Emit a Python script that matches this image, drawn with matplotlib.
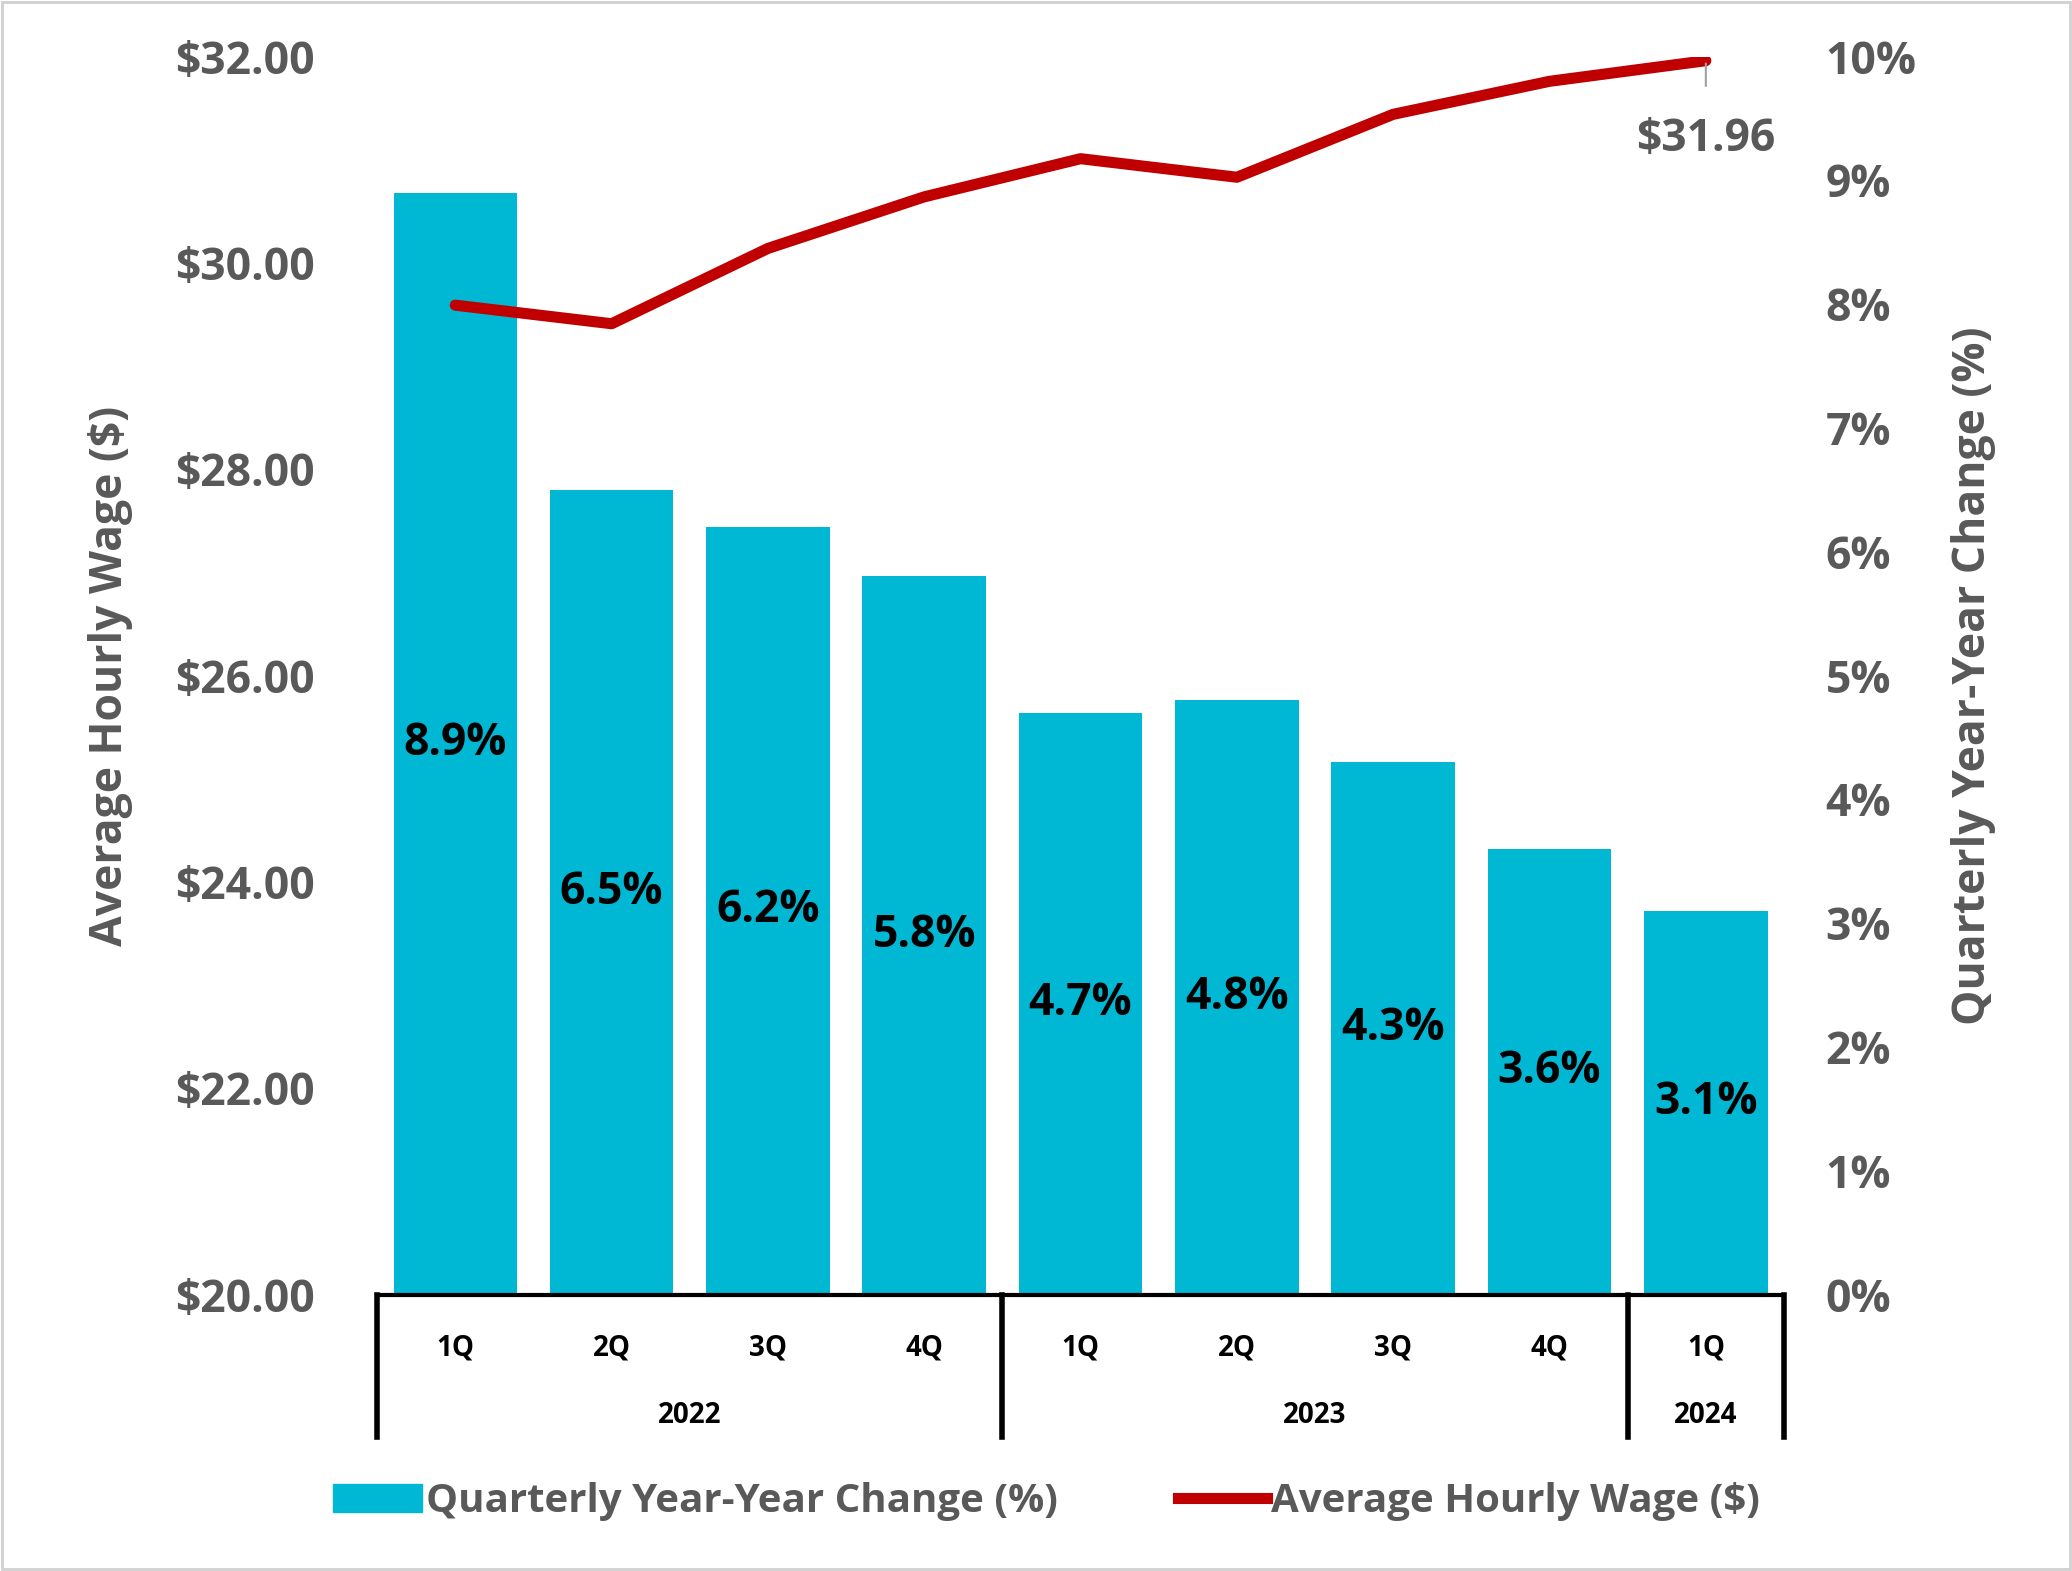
import matplotlib
matplotlib.use("Agg")
import matplotlib.pyplot as plt
from matplotlib.lines import Line2D
from matplotlib.patches import Patch, Rectangle

quarters = ["1Q", "2Q", "3Q", "4Q", "1Q", "2Q", "3Q", "4Q", "1Q"]
years = ["2022", "2023", "2024"]
year_counts = [4, 4, 1]
yoy_change = [8.9, 6.5, 6.2, 5.8, 4.7, 4.8, 4.3, 3.6, 3.1]
avg_wage = [29.59, 29.41, 30.14, 30.64, 31.01, 30.83, 31.44, 31.76, 31.96]

plt.rcParams['font.family'] = ['Open Sans', 'DejaVu Sans']
plt.rcParams['font.weight'] = 'bold'
grey = '#595959'
fig = plt.figure(figsize=(20.72, 15.71), dpi=100)
fig.patches.append(Rectangle((0.001, 0.001), 0.998, 0.998, transform=fig.transFigure,
                             fill=False, edgecolor='#d0d0d0', linewidth=2))
axl = fig.add_axes([0.182, 0.176, 0.679, 0.788])
axb = axl.twinx()
axl.set_zorder(axb.get_zorder() + 1)
axl.patch.set_visible(False)

x = list(range(len(quarters)))
axb.bar(x, yoy_change, width=0.79, color='#00B8D4', zorder=1)
for xi, v in zip(x, yoy_change):
    axb.text(xi, v / 2, f"{v:.1f}%", ha='center', va='center', fontsize=32,
             fontweight='bold', color='black')
axb.set_ylim(0, 10)
axb.set_yticks(range(0, 11))
axb.set_yticklabels([f"{i}%" for i in range(11)], fontsize=32, color=grey, fontweight='bold')
axb.set_ylabel("Quarterly Year-Year Change (%)", fontsize=32, color=grey, fontweight='bold', labelpad=25)
axb.tick_params(axis='y', length=0, pad=30)
for s in ['top', 'left', 'right', 'bottom']:
    axb.spines[s].set_visible(False)

axl.set_xlim(-0.5, len(x) - 0.5)
axl.set_xticks(x)
axl.set_xticklabels(quarters, fontsize=20, fontweight='bold', color='black')
axl.tick_params(axis='x', length=0, pad=28)
for s in ['top', 'left', 'right']:
    axl.spines[s].set_visible(False)
axl.spines['bottom'].set_linewidth(3)

tr = axl.get_xaxis_transform()
start = -0.5
bounds = [start]
for yr, n in zip(years, year_counts):
    axl.text(start + n / 2, -0.098, yr, transform=tr, ha='center', va='center',
             fontsize=20, fontweight='bold', color='black')
    start += n
    bounds.append(start)
for b in bounds:
    axl.add_line(Line2D([b, b], [0, -0.115], transform=tr, color='black', lw=4, clip_on=False))

axl.plot(x, avg_wage, color='#C00000', lw=8, solid_capstyle='round', zorder=3)
axl.set_ylim(20, 32)
axl.set_yticks(range(20, 33, 2))
axl.set_yticklabels([f"${v:.2f}" for v in range(20, 33, 2)], fontsize=32, color=grey, fontweight='bold')
axl.set_ylabel("Average Hourly Wage ($)", fontsize=32, color=grey, fontweight='bold', labelpad=30)
axl.tick_params(axis='y', length=0, pad=45)
axl.annotate(f"${avg_wage[-1]:.2f}", xy=(x[-1], avg_wage[-1]), xytext=(x[-1], 31.2),
             ha='center', va='center', fontsize=32, fontweight='bold', color=grey,
             arrowprops=dict(arrowstyle='-', color='#a0a0a0', lw=1.5, shrinkA=20, shrinkB=2))

handles = [Patch(color='#00B8D4', label="Quarterly Year-Year Change (%)"),
           Line2D([], [], color='#C00000', lw=8, label="Average Hourly Wage ($)")]
leg = fig.legend(handles=handles, loc='center', bbox_to_anchor=(0.505, 0.044), ncol=2,
                 frameon=False, fontsize=29, handlelength=2.2, handletextpad=0.1, columnspacing=3)
for t in leg.get_texts():
    t.set_color(grey)
    t.set_fontweight('bold')
fig.savefig("out.png", dpi=100)
